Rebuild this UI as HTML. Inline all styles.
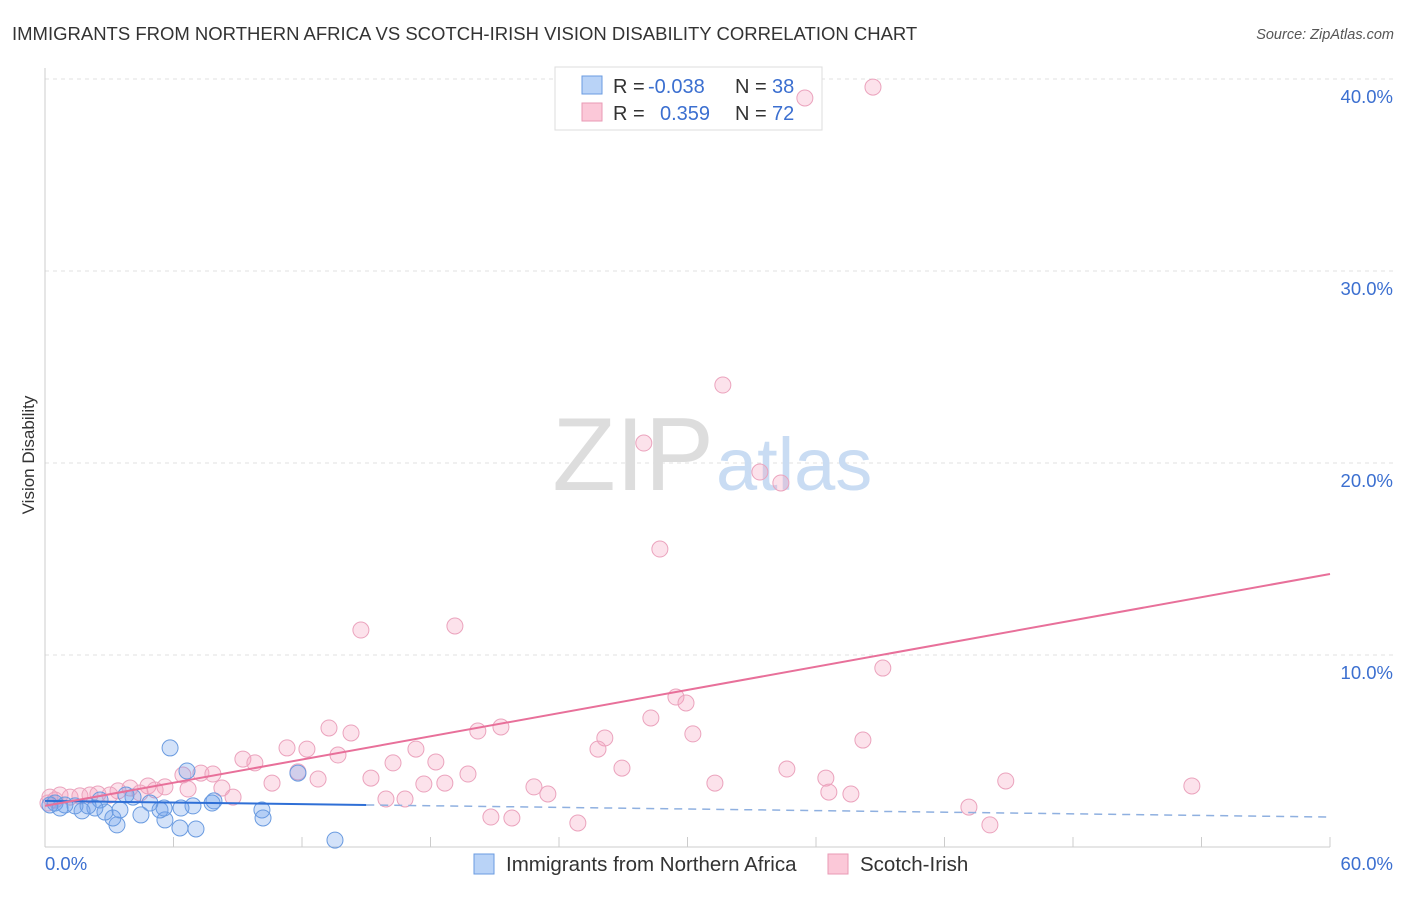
<!DOCTYPE html>
<html><head><meta charset="utf-8"><style>
body{margin:0;background:#fff;font-family:"Liberation Sans",sans-serif;}
svg text{font-family:"Liberation Sans",sans-serif;}
</style></head><body>
<svg width="1406" height="892" viewBox="0 0 1406 892">
<text x="12" y="40" font-size="18.5" fill="#333">IMMIGRANTS FROM NORTHERN AFRICA VS SCOTCH-IRISH VISION DISABILITY CORRELATION CHART</text>
<text x="1394" y="39" font-size="14.5" fill="#555" text-anchor="end" font-style="italic">Source: ZipAtlas.com</text>
<text transform="translate(34,455) rotate(-90)" font-size="17" fill="#333" text-anchor="middle">Vision Disability</text>
<g id="grid"></g>
<text x="714" y="490" font-size="104" fill="#ddd" text-anchor="end" font-family="Liberation Serif">ZIP</text>
<text x="716" y="490" font-size="74" fill="#c9dcf3">atlas</text>
<g>
<rect x="555" y="67" width="267" height="63" fill="#fff" stroke="#ddd"/>
<rect x="582" y="76" width="20" height="18" fill="#b9d3f7" stroke="#6a9be0"/>
<rect x="582" y="103" width="20" height="18" fill="#fbc8d8" stroke="#e89ab5"/>
<text y="93" font-size="20" fill="#333"><tspan x="613">R =</tspan><tspan x="648" fill="#3b6fd0">-0.038</tspan><tspan x="735">N =</tspan><tspan x="772" fill="#3b6fd0">38</tspan></text>
<text y="120" font-size="20" fill="#333"><tspan x="613">R =</tspan><tspan x="660" fill="#3b6fd0">0.359</tspan><tspan x="735">N =</tspan><tspan x="772" fill="#3b6fd0">72</tspan></text>
</g>
<g id="pts"></g>
<g id="trend"></g>
<g>
<rect x="474" y="854" width="20" height="20" fill="#b9d3f7" stroke="#6a9be0"/>
<text x="506" y="871" font-size="20.5" fill="#333">Immigrants from Northern Africa</text>
<rect x="828" y="854" width="20" height="20" fill="#fbc8d8" stroke="#e89ab5"/>
<text x="860" y="871" font-size="20.5" fill="#333">Scotch-Irish</text>
</g>
</svg>
<script>
const yTicks=[10,20,30,40];
const xTickLabels=["0.0%","60.0%"];
const pinkX=[38.66,35.48,31.65,27.96,33.38,34.36,28.71,14.75,19.14,39.12,29.46,29.93,28.29,21.29,13.26,14.29,20.21,30.25,38.19,26.14,25.82,17.32,11.30,12.23,9.24,9.80,13.68,16.25,18.25,26.94,34.64,6.44,7.28,7.84,11.81,12.75,15.22,19.75,36.46,44.86,31.28,10.60,17.69,18.67,22.83,53.55,8.26,6.68,4.81,5.60,3.97,2.47,3.41,36.60,37.63,23.48,15.92,16.81,8.78,43.14,20.82,21.80,24.88,44.12,0.23,0.70,1.17,1.63,2.10,3.03,4.44,5.14,0.14,0.47];
const pinkY=[39.58,39.01,24.06,21.04,19.53,18.96,15.52,11.30,11.51,9.32,7.81,7.50,6.72,6.25,6.20,5.94,6.04,5.89,5.57,5.68,5.10,5.10,5.16,5.10,4.58,4.38,4.79,4.38,4.43,4.11,4.06,3.75,3.85,3.80,3.91,3.54,3.59,3.80,3.59,3.44,3.33,3.33,3.28,3.33,3.13,3.18,3.07,3.02,3.18,3.13,3.07,2.76,2.92,2.86,2.76,2.76,2.50,2.50,2.60,2.08,1.56,1.51,1.25,1.15,2.60,2.71,2.60,2.66,2.71,2.71,2.81,2.97,2.29,2.45];
const blueX=[5.84,6.63,11.81,10.13,10.18,7.89,6.91,6.35,5.60,6.30,7.05,3.36,3.17,4.48,5.37,4.90,4.11,3.78,2.57,2.80,2.33,1.73,1.40,0.93,0.47,0.23,0.70,2.01,3.50,13.54,7.80,5.56];
const blueY=[5.16,3.96,3.85,1.93,1.51,2.40,2.14,2.03,1.41,0.99,0.94,1.15,1.51,1.67,1.93,2.29,2.60,2.71,2.45,1.82,2.03,1.88,2.14,2.19,2.29,2.19,2.03,2.14,1.93,0.36,2.29,2.03];
const blueTrend=[2.40,1.56]; const blueSolidEnd=15.0;
const pinkTrend=[2.14,14.22];
const NS="http://www.w3.org/2000/svg";
const X=v=>45+v*(1330-45)/60, Y=v=>847-v*19.2;
function mk(t,a,p){const e=document.createElementNS(NS,t);for(const k in a)e.setAttribute(k,a[k]);p.appendChild(e);return e;}
const grid=document.getElementById('grid');
yTicks.forEach(t=>{
 const l=mk('line',{x1:45,x2:1394,y1:Y(t),y2:Y(t),stroke:'#e2e2e2','stroke-dasharray':'4,4'},grid);
 
 
 const tx=mk('text',{x:1393,y:Y(t)+24,'font-size':18.5,fill:'#3b6fd0','text-anchor':'end'},grid);
 tx.textContent=t.toFixed(1)+'%';
 
 
});
const ax=mk('line',{x1:45,x2:1330,y1:847,y2:847,stroke:'#ccc'},grid);


const ay=mk('line',{x1:45,x2:45,y1:68,y2:847,stroke:'#ccc'},grid);


for(let i=1;i<=10;i++){const t=mk('line',{x1:X(i*6),x2:X(i*6),y1:847,y2:837,stroke:'#ccc'},grid);
 
 }
[[0,45,'start'],[1,1393,'end']].forEach(([i,x,a])=>{const t=mk('text',{x:x,y:870,'font-size':18.5,fill:'#3b6fd0','text-anchor':a},grid);t.textContent=xTickLabels[i];
 
 });
const pts=document.getElementById('pts');
pinkX.forEach((v,i)=>{const c=mk('circle',{cx:X(v),cy:Y(pinkY[i]),r:8,fill:'rgba(244,160,190,0.3)',stroke:'#eba3bd','stroke-width':1},pts);
 
 });
blueX.forEach((v,i)=>{const c=mk('circle',{cx:X(v),cy:Y(blueY[i]),r:8,fill:'rgba(110,160,235,0.3)',stroke:'#6a9be0','stroke-width':1},pts);
 
 });
const tr=document.getElementById('trend');
const by=x=>blueTrend[0]+(blueTrend[1]-blueTrend[0])*x/60;
const b1=mk('line',{x1:X(0),y1:Y(by(0)),x2:X(blueSolidEnd),y2:Y(by(blueSolidEnd)),stroke:'#2f6fd6','stroke-width':2},tr);


const b2=mk('line',{x1:X(blueSolidEnd),y1:Y(by(blueSolidEnd)),x2:X(60),y2:Y(by(60)),stroke:'#8fb0e0','stroke-width':1.5,'stroke-dasharray':'8,6'},tr);


const p1=mk('line',{x1:X(0),y1:Y(pinkTrend[0]),x2:X(60),y2:Y(pinkTrend[1]),stroke:'#e8709a','stroke-width':2},tr);


</script>
</body></html>
